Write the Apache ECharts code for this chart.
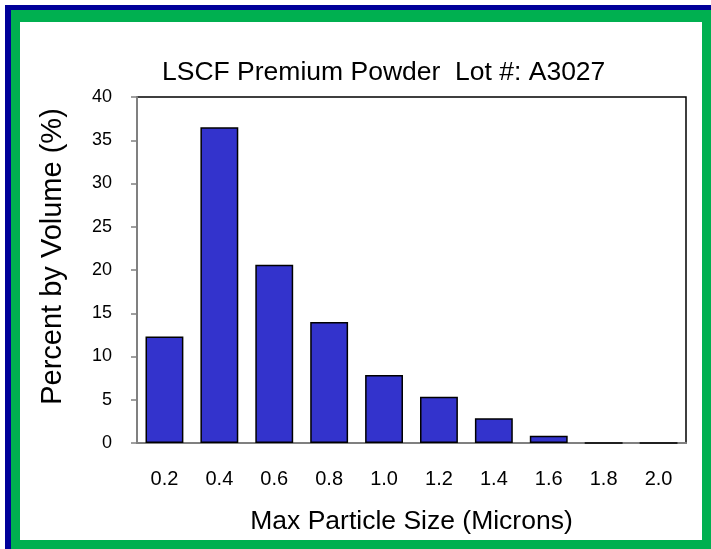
<!DOCTYPE html>
<html>
<head>
<meta charset="utf-8">
<script src="https://cdn.jsdelivr.net/npm/echarts@6/dist/echarts.min.js"></script>
<style>
  html, body { margin: 0; padding: 0; background: #ffffff; }
  #navy { position: absolute; left: 5px; top: 5px; width: 706px; height: 544px; background: #000099; }
  #green { position: absolute; left: 11px; top: 10px; width: 700px; height: 539px; background: #00B050; }
  #white { position: absolute; left: 20px; top: 22px; width: 682px; height: 518px; background: #ffffff; }
  #chart { position: absolute; left: 0; top: 0; width: 711px; height: 549px; }
</style>
</head>
<body>
<div id="navy"></div>
<div id="green"></div>
<div id="white"></div>
<div id="chart"></div>
<script>
const chartTitle = "LSCF Premium Powder  Lot #: A3027";
const xAxisTitle = "Max Particle Size (Microns)";
const yAxisTitle = "Percent by Volume (%)";
const categories = ["0.2", "0.4", "0.6", "0.8", "1.0", "1.2", "1.4", "1.6", "1.8", "2.0"];
const percentByVolume = [12.3, 36.5, 20.6, 14.0, 7.85, 5.35, 2.85, 0.85, 0, 0];
const yMin = 0, yMax = 40, yStep = 5;

const FONT = '"Liberation Sans", Arial, Helvetica, sans-serif';
const chart = echarts.init(document.getElementById('chart'), null, { renderer: 'canvas' });
chart.setOption({
  backgroundColor: 'transparent',
  animation: false,
  title: {
    text: chartTitle,
    left: 157,
    top: 54,
    textStyle: { fontFamily: FONT, fontSize: 26.5, fontWeight: 'normal', color: '#000' }
  },
  grid: {
    left: 137, right: 25, top: 97, bottom: 106,
    show: true, borderColor: '#000', borderWidth: 1.5, backgroundColor: 'transparent',
    containLabel: false
  },
  xAxis: {
    type: 'category',
    data: categories,
    name: xAxisTitle,
    nameLocation: 'middle',
    nameGap: 65,
    nameTextStyle: { fontFamily: FONT, fontSize: 26.5, color: '#000' },
    axisLine: { show: true, lineStyle: { color: '#808080', width: 2 } },
    axisTick: { show: false },
    axisLabel: { fontFamily: FONT, fontSize: 20, color: '#000', margin: 26 },
    splitLine: { show: false }
  },
  yAxis: {
    type: 'value',
    min: yMin, max: yMax, interval: yStep,
    name: yAxisTitle,
    nameLocation: 'middle',
    nameGap: 70,
    nameTextStyle: { fontFamily: FONT, fontSize: 29, color: '#000', padding: [0, 0, 0, 27] },
    axisLine: { show: true, lineStyle: { color: '#808080', width: 2 } },
    axisTick: { show: true, inside: false, length: 6, lineStyle: { color: '#808080', width: 1.5 } },
    axisLabel: { fontFamily: FONT, fontSize: 18, color: '#000', margin: 25 },
    splitLine: { show: false }
  },
  series: [{
    type: 'bar',
    data: percentByVolume,
    barCategoryGap: '31%',
    itemStyle: { color: '#3333CC', borderColor: '#000', borderWidth: 1.5 }
  }]
});
</script>
</body>
</html>
